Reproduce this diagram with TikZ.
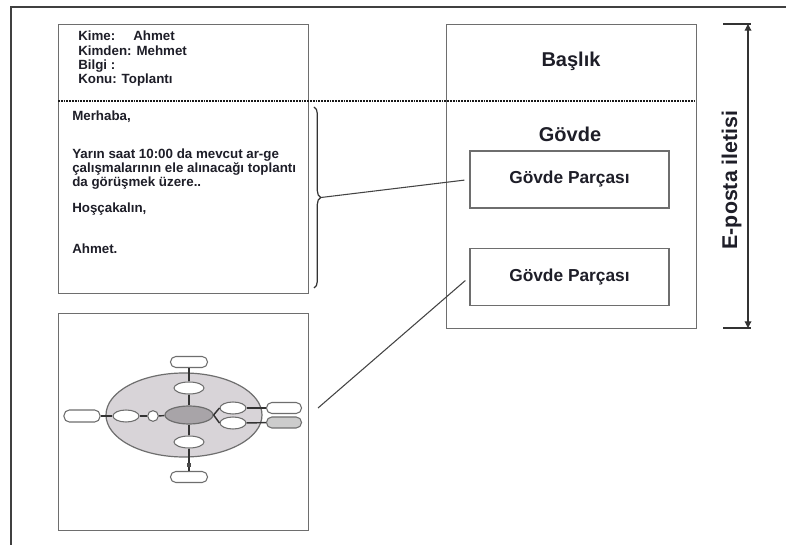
\documentclass[tikz,border=0pt]{standalone}
\usepackage{fontspec}
\setmainfont{Liberation Sans}
\usetikzlibrary{shapes.geometric,arrows.meta,decorations.pathreplacing}
\definecolor{ink}{HTML}{1E1E28}
\definecolor{framec}{HTML}{6E6E6E}
\definecolor{bigfill}{HTML}{D8D4D8}
\definecolor{midfill}{HTML}{A8A4A8}
\definecolor{lnk}{HTML}{444444}
\begin{document}
\begin{tikzpicture}[x=0.75pt,y=-0.75pt,
  txt/.style={font=\fontsize{10}{10.2}\selectfont\bfseries, text=ink, inner sep=0pt, align=left},
  box/.style={draw=framec, line width=0.9pt, inner sep=0pt},
  part/.style={box, minimum width=149.25pt, minimum height=42.75pt, font=\fontsize{13}{15}\selectfont\bfseries, text=ink},
  bigtxt/.style={font=\fontsize{15}{17}\selectfont\bfseries, text=ink, inner sep=0pt},
  conn/.style={draw=lnk, line width=0.8pt},
  oval/.style={ellipse, draw=framec, line width=0.8pt, fill=white, inner sep=0pt, minimum width=22.5pt, minimum height=9pt},
  pill/.style={rectangle, rounded corners=4pt, draw=framec, line width=0.8pt, fill=white, inner sep=0pt, minimum width=27.75pt, minimum height=8.25pt},
  wire/.style={draw=black!80, line width=1.1pt}
]
\useasboundingbox (0,0) rectangle (786,545);
\fill[white] (0,0) rectangle (786,545);
\draw[line width=1pt, draw=black!75] (786,7) -- (11,7) -- (11,545);

% boxes
\node[box, minimum width=187.5pt, minimum height=201.75pt, anchor=north west] (mail) at (58,24) {};
\node[box, minimum width=187.5pt, minimum height=228pt, anchor=north west] (msg) at (446,24) {};
\node[box, minimum width=187.5pt, minimum height=162.75pt, anchor=north west] (img) at (58,313) {};

% dotted separator
\draw[draw=black!90, line width=1.6pt, dash pattern=on 1.4pt off 0.7pt] (58,101) -- (696,101);

% header text
\node[txt, anchor=base west] (k1) at (78,41) {Kime:};
\node[txt, anchor=base west] (k1b) at (133,41) {Ahmet};
\node[txt, anchor=base west] (k2) at (78,55.3) {Kimden: Mehmet};
\node[txt, anchor=base west] (k3) at (78,69.6) {Bilgi :};
\node[txt, anchor=base west] (k4) at (78,84) {Konu: Toplantı};

% body text
\node[txt, anchor=base west] (b1) at (72,120.7) {Merhaba,};
\node[txt, anchor=base west] (b2a) at (72,159) {Yarın saat 10:00 da mevcut ar-ge};
\node[txt, anchor=base west] (b2b) at (72,172.6) {çalışmalarının ele alınacağı toplantı};
\node[txt, anchor=base west] (b2c) at (72,186.2) {da görüşmek üzere..};
\node[txt, anchor=base west] (b3) at (72,212.7) {Hoşçakalın,};
\node[txt, anchor=base west] (b4) at (72,254) {Ahmet.};

% right side
\node[bigtxt, anchor=base] (bas) at (571,66.7) {Başlık};
\node[bigtxt, anchor=base] (gov) at (570,142) {Gövde};
\node[part] (gp1) at (569.5,179.5) {Gövde Parçası};
\node[part] (gp2) at (569.5,277) {Gövde Parçası};

% E-posta iletisi
\node[font=\fontsize{16}{18}\selectfont\bfseries, text=ink, inner sep=0pt, rotate=90, anchor=base] (ep) at (737,180) {E-posta iletisi};
\coordinate (at) at (748,24);
\coordinate (ab) at (748,328);
\draw[draw=black!80, line width=0.9pt] (723,24) -- (751,24);
\draw[draw=black!80, line width=0.9pt] (723,328) -- (751,328);
\draw[draw=black!80, line width=0.9pt, {Triangle[length=5pt,width=5pt]}-{Triangle[length=5pt,width=5pt]}] (at) -- (ab);

% brace
\draw[draw=black!80, line width=0.9pt, decorate, decoration={brace, amplitude=5pt}] (314,107) -- (314,288);
\coordinate (bt) at (321,197.5);
\draw[conn, shorten >=3.75pt] (bt) -- (gp1.west);
\coordinate (it) at (318,408);
\draw[conn, shorten >=4pt] (it) -- (gp2.west);

% mind-map picture
\node[ellipse, draw=framec, line width=0.9pt, fill=bigfill, inner sep=0pt, minimum width=117pt, minimum height=63pt] (big) at (184,415) {};
\node[ellipse, draw=framec, line width=0.9pt, fill=midfill, inner sep=0pt, minimum width=36pt, minimum height=13.5pt] (ce) at (189,415) {};
\node[pill] (tr) at (189,362) {};
\node[oval] (ue) at (189,388) {};
\node[oval] (le) at (189,442) {};
\node[fill=black!70, inner sep=0pt, minimum size=3pt] (sq) at (189,465) {};
\node[pill] (br) at (189,477) {};
\node[pill, minimum width=27pt, minimum height=9pt] (lr) at (82,416) {};
\node[oval, minimum width=19.5pt] (lel) at (126,416) {};
\node[circle, draw=framec, line width=0.8pt, fill=white, inner sep=0pt, minimum size=8pt] (sc) at (153,416) {};
\node[oval, minimum width=19.5pt] (re1) at (233,408) {};
\node[oval, minimum width=19.5pt] (re2) at (233,423) {};
\node[pill, minimum width=26.25pt] (rr1) at (284,408) {};
\node[pill, minimum width=26.25pt, fill=black!20] (rr2) at (284,422.5) {};

\draw[wire] (tr) -- (ue);
\draw[wire] (ue) -- (ce);
\draw[wire] (ce) -- (le);
\draw[wire] (le) -- (sq);
\draw[wire] (sq) -- (br);
\draw[wire] (lr) -- (lel);
\draw[wire] (lel) -- (sc);
\draw[wire] (sc) -- (ce);
\draw[wire] (ce.east) -- (re1.west);
\draw[wire] (ce.east) -- (re2.west);
\draw[wire] (re1) -- (rr1);
\draw[wire] (re2) -- (rr2);
\end{tikzpicture}
\end{document}
